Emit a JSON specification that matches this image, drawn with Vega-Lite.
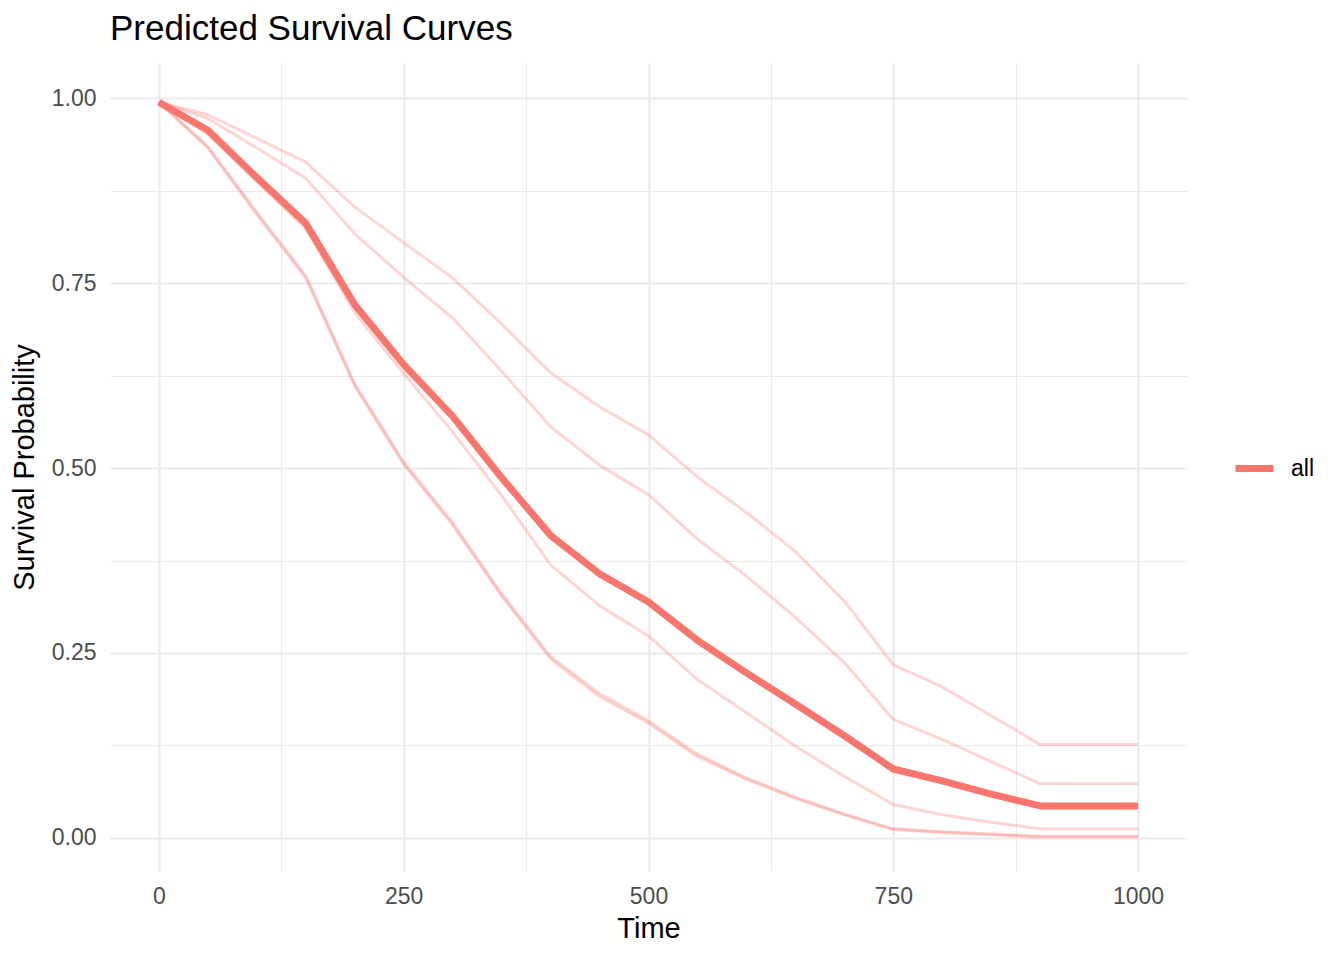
{
  "$schema": "https://vega.github.io/schema/vega-lite/v6.json",
  "autosize": "none",
  "padding": {"left": 110, "top": 63, "right": 157, "bottom": 89},
  "width": 1077,
  "height": 808,
  "background": "white",
  "title": {
    "text": "Predicted Survival Curves",
    "anchor": "start",
    "frame": "group",
    "font": "Liberation Sans",
    "fontSize": 35,
    "fontWeight": "normal",
    "color": "black",
    "offset": 16
  },
  "datasets": {
    "curves": [
      {"time": 0, "surv": 0.995, "id": "c1"}, {"time": 50, "surv": 0.978, "id": "c1"}, {"time": 100, "surv": 0.946, "id": "c1"},
      {"time": 150, "surv": 0.914, "id": "c1"}, {"time": 200, "surv": 0.853, "id": "c1"}, {"time": 250, "surv": 0.805, "id": "c1"},
      {"time": 300, "surv": 0.757, "id": "c1"}, {"time": 350, "surv": 0.695, "id": "c1"}, {"time": 400, "surv": 0.629, "id": "c1"},
      {"time": 450, "surv": 0.583, "id": "c1"}, {"time": 500, "surv": 0.545, "id": "c1"}, {"time": 550, "surv": 0.488, "id": "c1"},
      {"time": 600, "surv": 0.440, "id": "c1"}, {"time": 650, "surv": 0.387, "id": "c1"}, {"time": 700, "surv": 0.320, "id": "c1"},
      {"time": 750, "surv": 0.234, "id": "c1"}, {"time": 800, "surv": 0.204, "id": "c1"}, {"time": 850, "surv": 0.165, "id": "c1"},
      {"time": 900, "surv": 0.126, "id": "c1"}, {"time": 950, "surv": 0.126, "id": "c1"}, {"time": 1000, "surv": 0.126, "id": "c1"},

      {"time": 0, "surv": 0.995, "id": "c2"}, {"time": 50, "surv": 0.973, "id": "c2"}, {"time": 100, "surv": 0.933, "id": "c2"},
      {"time": 150, "surv": 0.892, "id": "c2"}, {"time": 200, "surv": 0.817, "id": "c2"}, {"time": 250, "surv": 0.758, "id": "c2"},
      {"time": 300, "surv": 0.703, "id": "c2"}, {"time": 350, "surv": 0.631, "id": "c2"}, {"time": 400, "surv": 0.556, "id": "c2"},
      {"time": 450, "surv": 0.504, "id": "c2"}, {"time": 500, "surv": 0.464, "id": "c2"}, {"time": 550, "surv": 0.404, "id": "c2"},
      {"time": 600, "surv": 0.354, "id": "c2"}, {"time": 650, "surv": 0.298, "id": "c2"}, {"time": 700, "surv": 0.237, "id": "c2"},
      {"time": 750, "surv": 0.160, "id": "c2"}, {"time": 800, "surv": 0.133, "id": "c2"}, {"time": 850, "surv": 0.103, "id": "c2"},
      {"time": 900, "surv": 0.073, "id": "c2"}, {"time": 950, "surv": 0.073, "id": "c2"}, {"time": 1000, "surv": 0.073, "id": "c2"},

      {"time": 0, "surv": 0.995, "id": "c3"}, {"time": 50, "surv": 0.952, "id": "c3"}, {"time": 100, "surv": 0.887, "id": "c3"},
      {"time": 150, "surv": 0.824, "id": "c3"}, {"time": 200, "surv": 0.710, "id": "c3"}, {"time": 250, "surv": 0.628, "id": "c3"},
      {"time": 300, "surv": 0.549, "id": "c3"}, {"time": 350, "surv": 0.463, "id": "c3"}, {"time": 400, "surv": 0.369, "id": "c3"},
      {"time": 450, "surv": 0.314, "id": "c3"}, {"time": 500, "surv": 0.273, "id": "c3"}, {"time": 550, "surv": 0.214, "id": "c3"},
      {"time": 600, "surv": 0.169, "id": "c3"}, {"time": 650, "surv": 0.124, "id": "c3"}, {"time": 700, "surv": 0.083, "id": "c3"},
      {"time": 750, "surv": 0.045, "id": "c3"}, {"time": 800, "surv": 0.031, "id": "c3"}, {"time": 850, "surv": 0.021, "id": "c3"},
      {"time": 900, "surv": 0.012, "id": "c3"}, {"time": 950, "surv": 0.012, "id": "c3"}, {"time": 1000, "surv": 0.012, "id": "c3"},

      {"time": 0, "surv": 0.995, "id": "c4"}, {"time": 50, "surv": 0.935, "id": "c4"}, {"time": 100, "surv": 0.846, "id": "c4"},
      {"time": 150, "surv": 0.760, "id": "c4"}, {"time": 200, "surv": 0.614, "id": "c4"}, {"time": 250, "surv": 0.508, "id": "c4"},
      {"time": 300, "surv": 0.426, "id": "c4"}, {"time": 350, "surv": 0.330, "id": "c4"}, {"time": 400, "surv": 0.245, "id": "c4"},
      {"time": 450, "surv": 0.195, "id": "c4"}, {"time": 500, "surv": 0.158, "id": "c4"}, {"time": 550, "surv": 0.113, "id": "c4"},
      {"time": 600, "surv": 0.081, "id": "c4"}, {"time": 650, "surv": 0.055, "id": "c4"}, {"time": 700, "surv": 0.032, "id": "c4"},
      {"time": 750, "surv": 0.012, "id": "c4"}, {"time": 800, "surv": 0.008, "id": "c4"}, {"time": 850, "surv": 0.005, "id": "c4"},
      {"time": 900, "surv": 0.002, "id": "c4"}, {"time": 950, "surv": 0.002, "id": "c4"}, {"time": 1000, "surv": 0.002, "id": "c4"},

      {"time": 0, "surv": 0.995, "id": "c5"}, {"time": 50, "surv": 0.933, "id": "c5"}, {"time": 100, "surv": 0.843, "id": "c5"},
      {"time": 150, "surv": 0.757, "id": "c5"}, {"time": 200, "surv": 0.611, "id": "c5"}, {"time": 250, "surv": 0.505, "id": "c5"},
      {"time": 300, "surv": 0.423, "id": "c5"}, {"time": 350, "surv": 0.327, "id": "c5"}, {"time": 400, "surv": 0.242, "id": "c5"},
      {"time": 450, "surv": 0.191, "id": "c5"}, {"time": 500, "surv": 0.155, "id": "c5"}, {"time": 550, "surv": 0.110, "id": "c5"},
      {"time": 600, "surv": 0.079, "id": "c5"}, {"time": 650, "surv": 0.053, "id": "c5"}, {"time": 700, "surv": 0.031, "id": "c5"},
      {"time": 750, "surv": 0.011, "id": "c5"}, {"time": 800, "surv": 0.007, "id": "c5"}, {"time": 850, "surv": 0.004, "id": "c5"},
      {"time": 900, "surv": 0.001, "id": "c5"}, {"time": 950, "surv": 0.001, "id": "c5"}, {"time": 1000, "surv": 0.001, "id": "c5"}
    ],
    "overall": [
      {"time": 0, "surv": 0.995, "group": "all"}, {"time": 50, "surv": 0.957, "group": "all"}, {"time": 100, "surv": 0.893, "group": "all"},
      {"time": 150, "surv": 0.831, "group": "all"}, {"time": 200, "surv": 0.721, "group": "all"}, {"time": 250, "surv": 0.640, "group": "all"},
      {"time": 300, "surv": 0.570, "group": "all"}, {"time": 350, "surv": 0.487, "group": "all"}, {"time": 400, "surv": 0.409, "group": "all"},
      {"time": 450, "surv": 0.357, "group": "all"}, {"time": 500, "surv": 0.319, "group": "all"}, {"time": 550, "surv": 0.267, "group": "all"},
      {"time": 600, "surv": 0.223, "group": "all"}, {"time": 650, "surv": 0.181, "group": "all"}, {"time": 700, "surv": 0.138, "group": "all"},
      {"time": 750, "surv": 0.093, "group": "all"}, {"time": 800, "surv": 0.077, "group": "all"}, {"time": 850, "surv": 0.059, "group": "all"},
      {"time": 900, "surv": 0.043, "group": "all"}, {"time": 950, "surv": 0.043, "group": "all"}, {"time": 1000, "surv": 0.043, "group": "all"}
    ]
  },
  "encoding": {
    "x": {
      "field": "time",
      "type": "quantitative",
      "title": "Time",
      "scale": {"domain": [-50, 1050], "nice": false, "zero": false},
      "axis": {
        "values": [0, 125, 250, 375, 500, 625, 750, 875, 1000],
        "labelExpr": "datum.value % 250 === 0 ? format(datum.value, 'd') : ''",
        "gridWidth": {"condition": {"test": "datum.value % 250 === 0", "value": 2.2}, "value": 1.1}
      }
    },
    "y": {
      "field": "surv",
      "type": "quantitative",
      "title": "Survival Probability",
      "scale": {"domain": [-0.045, 1.048], "nice": false, "zero": false},
      "axis": {
        "values": [0, 0.125, 0.25, 0.375, 0.5, 0.625, 0.75, 0.875, 1],
        "labelExpr": "(datum.value * 4) % 1 === 0 ? format(datum.value, '.2f') : ''",
        "gridWidth": {"condition": {"test": "(datum.value * 4) % 1 === 0", "value": 2.2}, "value": 1.1}
      }
    }
  },
  "layer": [
    {
      "data": {"name": "curves"},
      "mark": {"type": "line", "color": "#F8766D", "opacity": 0.3, "strokeWidth": 3, "strokeJoin": "round"},
      "encoding": {"detail": {"field": "id", "type": "nominal"}}
    },
    {
      "data": {"name": "overall"},
      "mark": {"type": "line", "strokeWidth": 7, "strokeJoin": "round"},
      "encoding": {
        "color": {
          "field": "group",
          "type": "nominal",
          "scale": {"range": ["#F8766D"]},
          "legend": {
            "title": null,
            "orient": "none",
            "legendX": 1122,
            "legendY": 383,
            "symbolType": "stroke",
            "symbolSize": 1444,
            "symbolStrokeWidth": 7,
            "labelFontSize": 23,
            "labelFont": "Liberation Sans",
            "labelColor": "black",
            "labelOffset": 14
          }
        }
      }
    }
  ],
  "config": {
    "view": {"stroke": null},
    "axis": {
      "domain": false,
      "ticks": false,
      "gridColor": "#EBEBEB",
      "labelFont": "Liberation Sans",
      "labelFontSize": 23,
      "labelColor": "#4D4D4D",
      "labelPadding": 14,
      "titleFont": "Liberation Sans",
      "titleFontSize": 29,
      "titleFontWeight": "normal",
      "titleColor": "black"
    },
    "axisX": {"titlePadding": 6},
    "axisY": {"titlePadding": 12}
  }
}
